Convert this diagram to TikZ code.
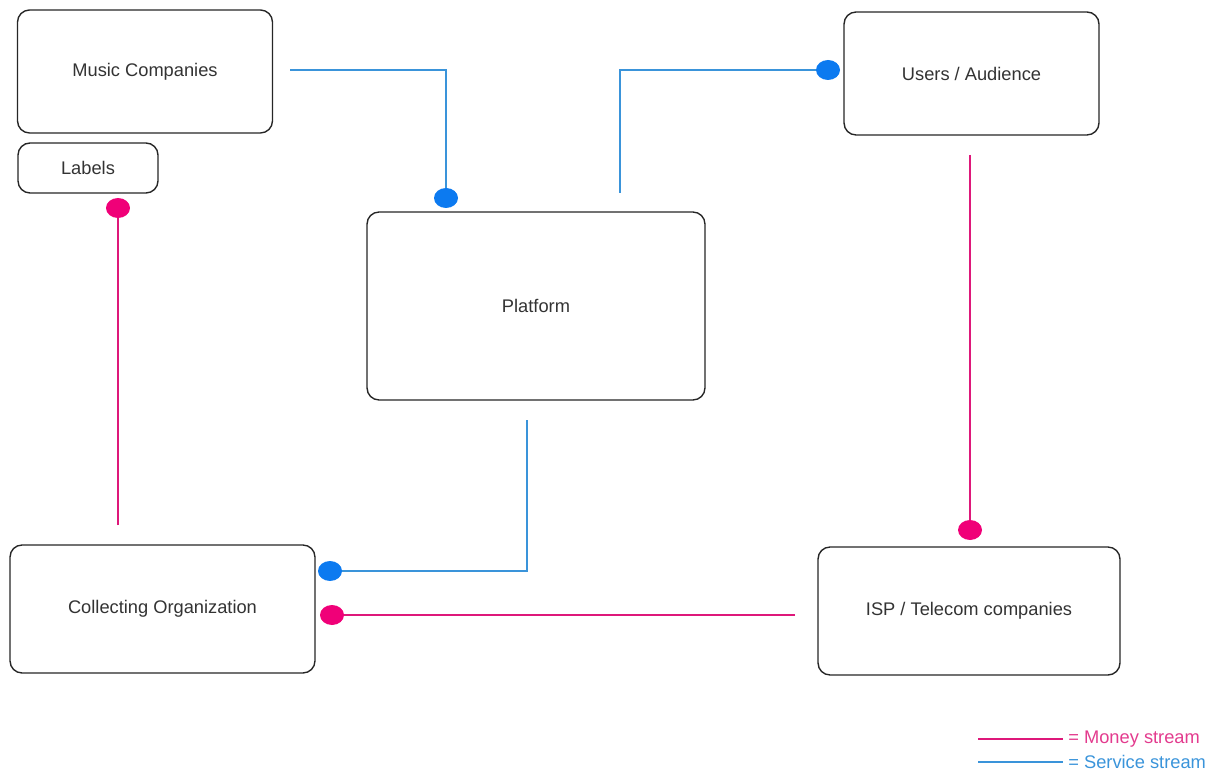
\documentclass[tikz,border=0pt]{standalone}
\usepackage{fontspec}
\setmainfont{Liberation Sans}
\usetikzlibrary{shapes.geometric}

\definecolor{moneyline}{RGB}{222,24,122}
\definecolor{moneydot}{RGB}{240,0,120}
\definecolor{serviceline}{RGB}{58,148,218}
\definecolor{servicedot}{RGB}{12,122,240}

\tikzset{
	block/.style={draw=black!85, line width=0.8pt, rounded corners=0.24cm, fill=white, text=black!80, font=\fontsize{10.4}{12}\selectfont, inner sep=0pt},
	money/.style={draw=moneyline, line width=0.8pt},
	service/.style={draw=serviceline, line width=0.8pt},
	blob/.style={ellipse, minimum width=0.48cm, minimum height=0.40cm, inner sep=0pt},
	keytext/.style={anchor=west, font=\fontsize{10.4}{12}\selectfont, inner sep=0pt}
}

\begin{document}
\begin{tikzpicture}[x=0.02cm, y=-0.02cm]

		\useasboundingbox (0,0) rectangle (1226,776);

		% draw boxes
		\node[block, minimum width=5.10cm, minimum height=2.46cm] (music) at (145,71.5) {Music Companies};
		\node[block, minimum width=2.80cm, minimum height=1.00cm] (labels) at (88,168) {Labels};
		\node[block, minimum width=6.76cm, minimum height=3.76cm] (platform) at (536,306) {Platform};
		\node[block, minimum width=5.10cm, minimum height=2.46cm] (users) at (971.5,73.5) {Users / Audience};
		\node[block, minimum width=6.10cm, minimum height=2.56cm] (collecting) at (162.5,609) {Collecting Organization};
		\node[block, minimum width=6.04cm, minimum height=2.56cm] (isp) at (969,611) {ISP / Telecom companies};

		% free ends of the streams
		\coordinate (music-out) at (290,70);
		\coordinate (platform-top) at (620,193);
		\coordinate (platform-bottom) at (527,420);
		\coordinate (collecting-top) at (118,525);
		\coordinate (users-bottom) at (970,155);
		\coordinate (isp-left) at (795,615);

		% draw service streams
		\node[blob, fill=servicedot] (platform-in) at (446,198) {};
		\node[blob, fill=servicedot] (users-in) at (828,70) {};
		\node[blob, fill=servicedot] (collecting-service) at (330,571) {};
		\draw[service] (music-out) -| (platform-in); % music to platform
		\draw[service] (platform-top) |- (users-in); % platform to users
		\draw[service] (platform-bottom) |- (collecting-service); % platform to collecting

		% draw money streams
		\node[blob, fill=moneydot] (labels-in) at (118,208) {};
		\node[blob, fill=moneydot] (isp-in) at (970,530) {};
		\node[blob, fill=moneydot] (collecting-money) at (332,615) {};
		\draw[money] (collecting-top) -- (labels-in); % collecting to labels
		\draw[money] (users-bottom) -- (isp-in); % users to isp
		\draw[money] (isp-left) -- (collecting-money); % isp to collecting

		% draw legend
		\node[keytext, text=moneyline!85] (money-key) at (1068,739) {= Money stream};
		\node[keytext, text=serviceline] (service-key) at (1068,762) {= Service stream};
		\coordinate (money-start) at (978,739);
		\coordinate (service-start) at (978,762);
		\draw[money] (money-start) -- ([xshift=-0.1cm]money-key.west);
		\draw[service] (service-start) -- ([xshift=-0.1cm]service-key.west);

	\end{tikzpicture}
\end{document}
